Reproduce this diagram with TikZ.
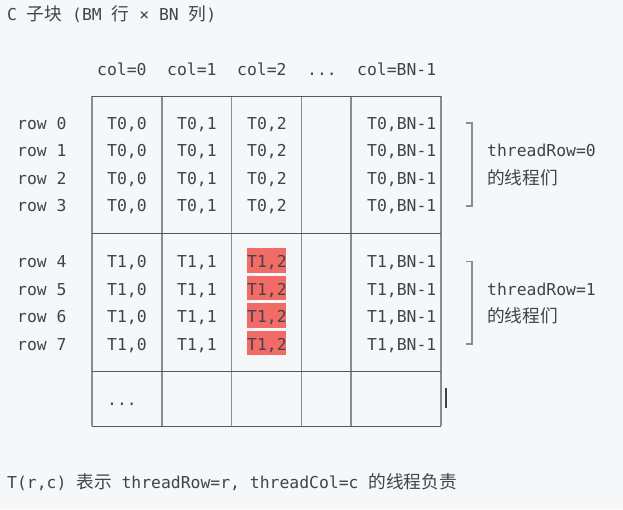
\documentclass[tikz,border=0pt]{standalone}
\usepackage{fontspec}
\setmainfont{DejaVu Sans Mono}
\newfontfamily\cjk{Noto Sans CJK SC}[Scale=1.08]
\usetikzlibrary{positioning,calc}
\definecolor{paper}{HTML}{F6F7F9}
\definecolor{ink}{HTML}{40434A}
\definecolor{rulev}{HTML}{8A8C90}
\definecolor{ruleh}{HTML}{55575B}
\definecolor{hot}{HTML}{F36B67}
\newcommand{\zh}[1]{{\cjk #1}}

\begin{document}
\begin{tikzpicture}[x=1pt, y=-1pt, text=ink, font=\fontsize{16.4}{20}\selectfont,
    txt/.style={anchor=base west, inner sep=0pt},
    vline/.style={rulev, line width=1.7pt},
    hline/.style={ruleh, line width=0.9pt},
    brace/.style={rulev, line width=1.5pt}]
  \fill[paper] (0,0) rectangle (623,509);
  \useasboundingbox (0,0) rectangle (623,509);

  \node[txt] (title) at (7,20) {C \zh{子块} (BM \zh{行} × BN \zh{列})};

  % column headers
  \foreach \x/\t [count=\i] in {97/col=0, 167/col=1, 237/col=2, 357/col=BN-1}
    \node[txt] (head\i) at (\x,75) {\t};
  \node[txt] (headdots) at (307,75) {...};

  % grid
  \foreach \x in {92,161.7,231.4,301.6,351.3,441.3}
    \draw[vline] (\x,96) -- (\x,426);
  \foreach \y in {96,233,371,426}
    \draw[hline] (92,\y) -- (441.3,\y);

  % rows
  \foreach \r in {0,1,2,3,4,5,6,7} {
    \pgfmathsetmacro{\y}{\r<4 ? 129+27.6*\r : 267.6+27.5*(\r-4)}
    \pgfmathtruncatemacro{\g}{\r<4 ? 0 : 1}
    \ifnum\g=1 \fill[hot] (247,\y-19.4) rectangle (285.6,\y+5); \fi
    \node[txt] (row\r) at (17,\y) {row \r};
    \node[txt] (c\r-0) at (107,\y) {T\g,0};
    \node[txt] (c\r-1) at (177,\y) {T\g,1};
    \node[txt] (c\r-2) at (247,\y) {T\g,2};
    \node[txt] (c\r-n) at (367,\y) {T\g,BN-1};
  }
  \node[txt] (more) at (107,405) {...};
  \draw[ink, line width=2.2pt] (446,388) -- (446,408);

  % thread groups
  \draw[brace] (466,123) -- (472,123) -- (472,206) -- (466,206);
  \node[txt] (grp0) at (487,156.6) {threadRow=0};
  \node[txt] (grp0b) at (487,184.2) {\zh{的线程们}};
  \draw[brace] (466,261.5) -- (472,261.5) -- (472,344) -- (466,344);
  \node[txt] (grp1) at (487,295.1) {threadRow=1};
  \node[txt] (grp1b) at (487,322.6) {\zh{的线程们}};

  \node[txt] (note) at (7,488) {T(r,c) \zh{表示} threadRow=r, threadCol=c \zh{的线程负责}};
\end{tikzpicture}
\end{document}
